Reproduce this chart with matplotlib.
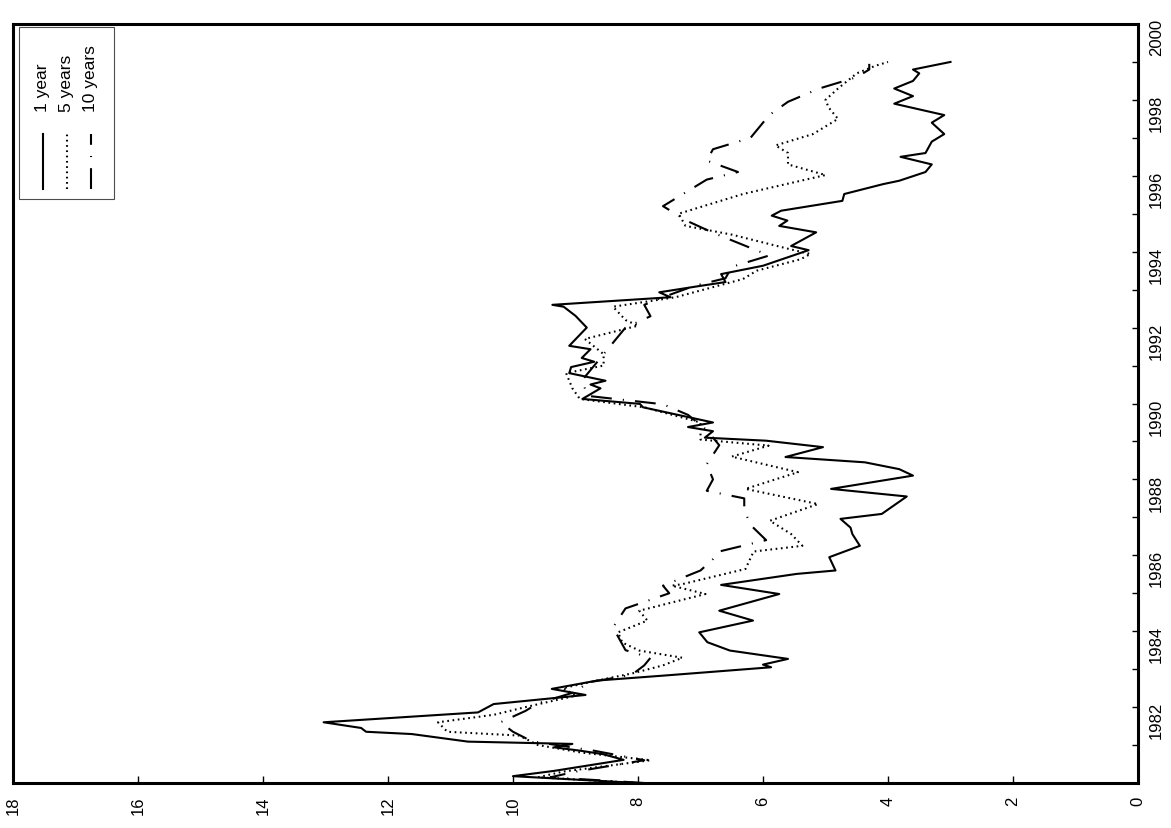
import matplotlib
matplotlib.use('Agg')
import matplotlib.pyplot as plt
from matplotlib.patches import Rectangle
from matplotlib.ticker import MultipleLocator

plt.rcParams['font.family'] = ['Liberation Sans', 'DejaVu Sans']
plt.rcParams['lines.scale_dashes'] = False

# interest rates (%) by decimal year
t_1y = [1980.00, 1980.18, 1980.32, 1980.61, 1980.76, 1980.85, 1980.94, 1981.03, 1981.09,
        1981.29, 1981.35, 1981.45, 1981.60, 1981.86, 1982.08, 1982.32, 1982.48, 1982.70,
        1982.83, 1983.05, 1983.12, 1983.27, 1983.49, 1983.71, 1983.97, 1984.28, 1984.54,
        1984.98, 1985.22, 1985.51, 1985.60, 1985.95, 1986.25, 1986.56, 1986.73, 1986.96,
        1987.09, 1987.55, 1987.75, 1988.10, 1988.27, 1988.45, 1988.59, 1988.85, 1989.02,
        1989.10, 1989.27, 1989.38, 1989.50, 1989.90, 1989.99, 1990.12, 1990.40, 1990.50,
        1990.60, 1990.80, 1990.96, 1991.10, 1991.20, 1991.43, 1991.52, 1992.00, 1992.31,
        1992.55, 1992.60, 1992.80, 1992.93, 1993.10, 1993.20, 1993.41, 1993.63, 1994.04,
        1994.15, 1994.51, 1994.68, 1994.82, 1994.95, 1995.08, 1995.34, 1995.52, 1995.78,
        1995.87, 1996.10, 1996.30, 1996.50, 1996.60, 1996.90, 1997.10, 1997.40, 1997.60,
        1997.90, 1998.10, 1998.30, 1998.50, 1998.70, 1998.80, 1999.00]
r_1y = [8.0, 10.0, 9.34, 8.23, 8.56, 8.92, 9.34, 9.05, 10.72,
        11.62, 12.35, 12.43, 13.03, 10.56, 10.31, 8.84, 9.38, 8.65,
        7.59, 5.87, 6.0, 5.60, 6.53, 6.89, 7.02, 6.16, 6.70,
        5.74, 6.67, 5.46, 4.84, 4.94, 4.45, 4.57, 4.6, 4.76,
        4.1, 3.7, 4.91, 3.6, 3.82, 4.37, 5.64, 5.04, 5.95,
        6.93, 6.8, 7.2, 6.8, 7.92, 7.97, 8.89, 8.6, 8.76,
        8.52, 9.1, 9.07, 8.7, 8.9, 8.76, 9.1, 8.82, 9.0,
        9.19, 9.37, 7.48, 7.66, 7.0, 6.6, 6.67, 6.0, 5.27,
        5.55, 5.15, 5.74, 5.61, 5.86, 5.71, 4.73, 4.70, 4.08,
        3.82, 3.4, 3.3, 3.8, 3.4, 3.3, 3.1, 3.3, 3.1,
        3.9, 3.6, 3.9, 3.6, 3.5, 3.6, 3.0]

t_5y = [1980.00, 1980.15, 1980.30, 1980.60, 1980.80, 1981.00, 1981.25, 1981.35, 1981.60,
        1981.80, 1982.00, 1982.30, 1982.50, 1982.70, 1982.90, 1983.10, 1983.30, 1983.49,
        1983.70, 1983.97, 1984.28, 1984.54, 1984.98, 1985.20, 1985.24, 1985.64, 1986.10,
        1986.25, 1986.56, 1986.91, 1987.35, 1987.75, 1988.19, 1988.60, 1988.89, 1989.05,
        1989.50, 1989.90, 1990.12, 1990.40, 1990.80, 1991.00, 1991.30, 1991.70, 1992.05,
        1992.20, 1992.55, 1992.80, 1993.28, 1993.50, 1993.80, 1993.94, 1994.07, 1994.45,
        1994.68, 1995.00, 1995.52, 1996.02, 1996.30, 1996.60, 1996.80, 1997.10, 1997.50,
        1997.80, 1998.00, 1998.30, 1998.70, 1998.90, 1999.00]
r_5y = [8.0, 9.6, 9.2, 7.8, 8.9, 9.6, 9.9, 11.05, 11.2,
        10.3, 9.8, 9.0, 9.2, 8.65, 8.06, 7.6, 7.29, 7.98,
        8.25, 8.32, 7.85, 7.98, 6.92, 7.46, 7.29, 6.28, 6.15,
        5.37, 5.55, 5.89, 5.12, 6.28, 5.44, 6.5, 5.91, 7.0,
        7.0, 7.9, 8.93, 9.05, 9.15, 8.55, 8.55, 8.85, 8.0,
        8.2, 8.4, 7.4, 6.32, 6.1, 5.4, 5.24, 5.58, 6.5,
        7.24, 7.35, 6.32, 5.0, 5.6, 5.6, 5.8, 5.2, 4.8,
        4.95, 5.0, 4.8, 4.5, 4.2, 4.0]

t_10y = [1980.00, 1980.15, 1980.30, 1980.60, 1980.85, 1981.10, 1981.35, 1981.60, 1981.90,
         1982.10, 1982.40, 1982.65, 1982.85, 1983.10, 1983.30, 1983.50, 1983.80, 1984.10,
         1984.60, 1985.00, 1985.20, 1985.60, 1985.90, 1986.10, 1986.40, 1986.80, 1987.20,
         1987.50, 1987.70, 1988.00, 1988.40, 1988.90, 1989.30, 1989.70, 1989.98, 1990.20,
         1990.60, 1991.00, 1991.60, 1992.00, 1992.30, 1992.60, 1992.80, 1993.10, 1993.30,
         1993.60, 1993.90, 1994.10, 1994.50, 1994.80, 1995.00, 1995.20, 1995.40, 1995.60,
         1995.90, 1996.10, 1996.40, 1996.70, 1997.00, 1997.40, 1997.60, 1997.95, 1998.30,
         1998.60, 1998.80, 1998.95]
r_10y = [7.9, 9.4, 9.0, 7.9, 8.7, 9.7, 10.0, 10.2, 9.8,
         9.6, 9.0, 8.8, 8.1, 7.9, 7.8, 8.2, 8.3, 8.4,
         8.2, 7.5, 7.6, 7.0, 6.8, 6.7, 5.95, 6.2, 6.3,
         6.3, 6.9, 6.8, 6.9, 6.7, 6.9, 7.2, 7.6, 8.8,
         8.9, 8.7, 8.4, 8.2, 7.8, 7.9, 7.6, 7.1, 6.6,
         6.5, 5.9, 6.2, 6.8, 7.2, 7.4, 7.6, 7.4, 7.2,
         6.9, 6.4, 6.9, 6.8, 6.2, 6.0, 5.9, 5.6, 5.1,
         4.5, 4.3, 4.3]

labels = ['1 year', '5 years', '10 years']
styles = ['-', (0, (1.2, 2.6)), (0, (15, 8, 0.8, 8))]

W, H = 1171, 829
fig = plt.figure(figsize=(W / 100, H / 100), dpi=100)
ax = fig.add_axes([13 / W, 45 / H, 1125 / W, 759 / H])

# chart is drawn turned on its side: rate runs along the bottom, time up the right
series = [(r_1y, t_1y), (r_5y, t_5y), (r_10y, t_10y)]
for (r, t), ls in zip(series, styles):
    ax.plot(r, t, color='black', lw=1.5, linestyle=ls)

ax.set_xlim(18, 0)
ax.set_ylim(1980, 2000)
ax.set_xticks(range(0, 19, 2))
ax.set_yticks(range(1982, 2001, 2))
ax.yaxis.set_minor_locator(MultipleLocator(1))
ax.yaxis.tick_right()
ax.tick_params(axis='x', direction='in', length=5, width=1, top=False,
               labelrotation=90, pad=9, labelsize=12)
ax.tick_params(axis='y', which='both', direction='in', length=4, width=1,
               left=False, right=True, labelrotation=90, pad=8, labelsize=12)
for s in ax.spines.values():
    s.set_linewidth(2.2)


def fx(px):
    return px / W


def fy(py):
    return 1 - py / H


# legend, rotated like the rest of the chart
fig.patches.append(Rectangle((fx(19), fy(200)), fx(114) - fx(19), fy(28) - fy(200),
                             transform=fig.transFigure, fill=False,
                             edgecolor='0.3', lw=0.8))
for i, (lab, ls) in enumerate(zip(labels, styles)):
    x = 43 + 24 * i
    fig.add_artist(plt.Line2D([fx(x), fx(x)], [fy(190), fy(135)], color='black',
                              lw=1.5, linestyle=ls, transform=fig.transFigure))
    fig.text(fx(x), fy(112), lab, rotation=90, ha='center', va='bottom', fontsize=12.5)

fig.savefig('out.png', dpi=100)
